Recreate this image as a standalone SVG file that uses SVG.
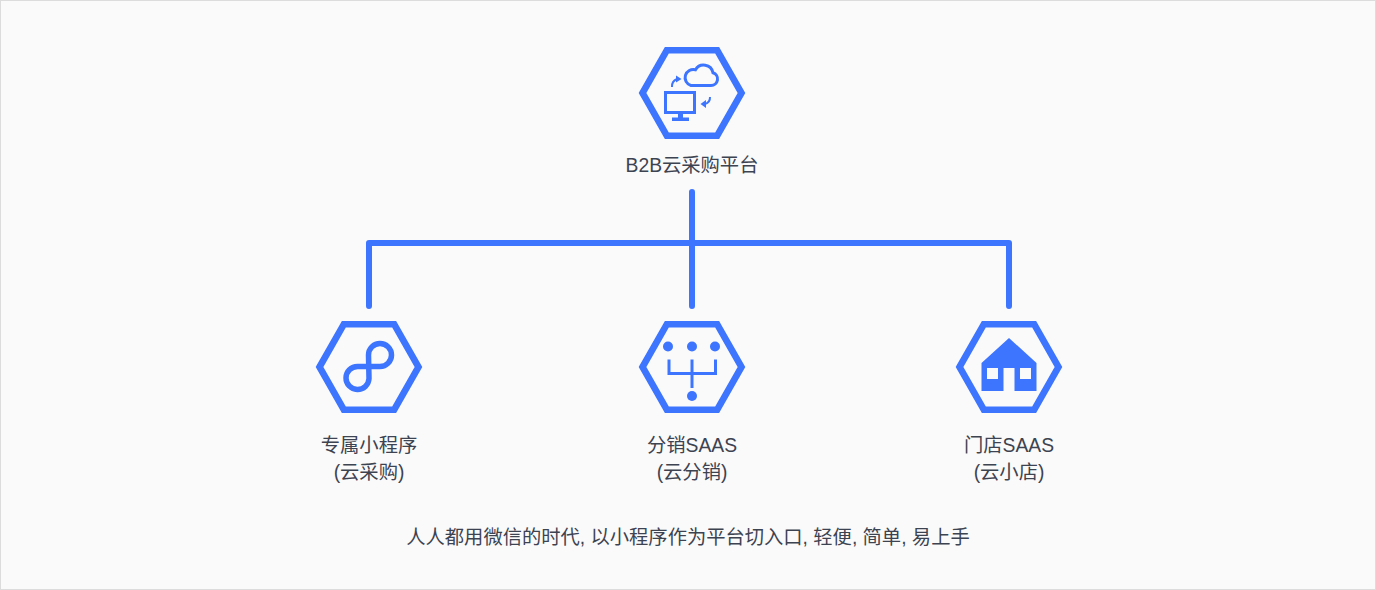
<svg xmlns="http://www.w3.org/2000/svg" width="1376" height="590" viewBox="0 0 1376 590">
<style>
text{font-family:"Liberation Sans","Noto Sans CJK SC",sans-serif;font-size:19.3px;fill:#3d4350;text-anchor:middle}
.hex{fill:none;stroke:#3d75ff;stroke-width:6.600;stroke-linejoin:miter}
.conn{fill:none;stroke:#3d75ff;stroke-width:6;stroke-linecap:round;stroke-linejoin:round}
.thin{fill:none;stroke:#3d75ff;stroke-width:3}
.arrow{fill:none;stroke:#3d75ff;stroke-width:2}
.ico{fill:#3d75ff}
</style>
<defs><polygon id="hexagon" class="hex" points="-49.500,0 -25.200,-42.700 25.200,-42.700 49.500,0 25.200,42.700 -25.200,42.700"/></defs>
<rect x="0.5" y="0.5" width="1375" height="589" fill="#fafafa" stroke="#dcdcdc"/>
<g id="connectors">
<path class="conn" d="M692 192V306M369 306V243H1009V306"/>
</g>
<g id="node-platform">
<use href="#hexagon" x="692" y="93"/>
<path class="thin" d="M691 85.500H711a6.500 6.500 0 0 0 2-12.700a9.500 9.500 0 0 0-17.500-3A8.100 8.100 0 0 0 691 85.500z"/>
<rect x="665.500" y="92.500" width="29" height="20" class="thin"/>
<rect x="678" y="113" width="5" height="5" class="ico"/>
<rect x="672" y="117.500" width="17" height="3.500" class="ico"/>
<path class="arrow" d="M672 87a8 8 0 0 1 5-8"/>
<path class="ico" d="M676 75.500l5.500 3.500-5.500 3.500z"/>
<path class="arrow" d="M710 97a7 7 0 0 1-5 7"/>
<path class="ico" d="M706 100v8l-5.500-4z"/>
<text x="692" y="172">B2B云采购平台</text>
</g>
<g id="node-miniapp">
<use href="#hexagon" x="369" y="367"/>
<path fill="none" stroke="#3d75ff" stroke-width="5.500" d="M368.500 355A11.500 11.500 0 1 1 380 366.500H357.500A11.500 11.500 0 1 0 369 378.500Z"/>
<text x="369" y="452">专属小程序</text>
<text x="369" y="479">(云采购)</text>
</g>
<g id="node-distribution">
<use href="#hexagon" x="692" y="367"/>
<circle class="ico" cx="668" cy="346.500" r="5"/><circle class="ico" cx="692" cy="346.500" r="5"/><circle class="ico" cx="715" cy="346.500" r="5"/><circle class="ico" cx="692" cy="396" r="5"/>
<path class="thin" d="M669 359.500V373.500H715.500V359.500M692 359.500V388"/>
<text x="692" y="452">分销SAAS</text>
<text x="692" y="479">(云分销)</text>
</g>
<g id="node-store">
<use href="#hexagon" x="1009" y="367"/>
<path class="ico" fill-rule="evenodd" d="M1009 338L1036.500 363V391H1014.500V368H1003.500V391H981.500V363ZM987 368V379H998V368ZM1020 368V379H1031V368Z"/>
<text x="1009" y="452">门店SAAS</text>
<text x="1009" y="479">(云小店)</text>
</g>
<text id="caption" x="688" y="544">人人都用微信的时代, 以小程序作为平台切入口, 轻便, 简单, 易上手</text>
</svg>
